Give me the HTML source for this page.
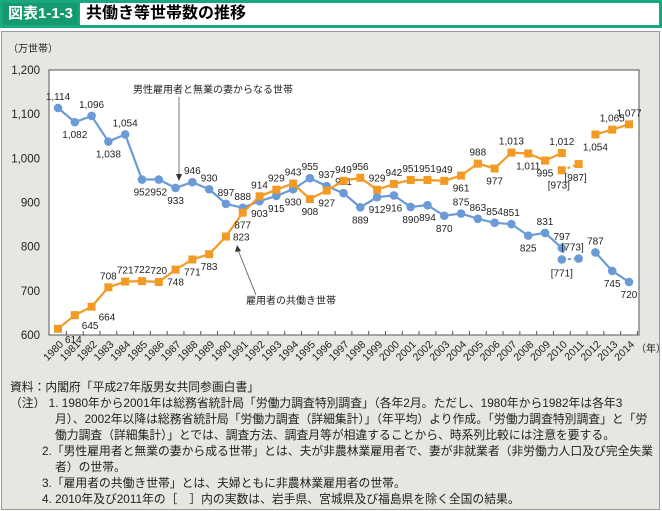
<!DOCTYPE html>
<html><head><meta charset="utf-8">
<style>
body{margin:0;width:662px;height:511px;overflow:hidden;background:#fff;font-family:"Liberation Sans","Noto Sans CJK JP",sans-serif;}
#hdr{position:absolute;left:0;top:0;width:662px;height:28px;background:#1aa97f;}
#lbl{position:absolute;left:3px;top:3px;width:75px;height:22px;background:#159a70;color:#fff;font-weight:bold;font-size:15px;line-height:22px;text-align:center;}
#ttl{position:absolute;left:80px;top:3px;width:579px;height:22px;background:#fff;font-weight:bold;font-size:16px;line-height:22px;padding-left:6px;box-sizing:border-box;}
#panel{position:absolute;left:1px;top:31px;width:657px;height:477px;background:#e7e6e0;border:1px solid #9a9a9a;}
svg{position:absolute;left:0;top:0;}
#notes{position:absolute;left:10px;top:379px;font-size:11.8px;line-height:16px;color:#222;width:660px;white-space:nowrap;}
</style></head><body>
<div id="hdr"></div>
<div id="lbl">図表1-1-3</div>
<div id="ttl">共働き等世帯数の推移</div>
<div id="panel"></div>
<svg id="chart" width="662" height="380"></svg>
<div id="notes">
<div>資料：内閣府「平成27年版男女共同参画白書」</div>
<div>（注）&nbsp;1. 1980年から2001年は総務省統計局「労働力調査特別調査」（各年2月。ただし、1980年から1982年は各年3</div>
<div style="padding-left:45px">月）、2002年以降は総務省統計局「労働力調査（詳細集計）」（年平均）より作成。「労働力調査特別調査」と「労</div>
<div style="padding-left:45px">働力調査（詳細集計）」とでは、調査方法、調査月等が相違することから、時系列比較には注意を要する。</div>
<div style="padding-left:32px">2.「男性雇用者と無業の妻から成る世帯」とは、夫が非農林業雇用者で、妻が非就業者（非労働力人口及び完全失業</div>
<div style="padding-left:45px">者）の世帯。</div>
<div style="padding-left:32px">3.「雇用者の共働き世帯」とは、夫婦ともに非農林業雇用者の世帯。</div>
<div style="padding-left:32px">4. 2010年及び2011年の［　］内の実数は、岩手県、宮城県及び福島県を除く全国の結果。</div>
</div>
<script>
const years=[1980,1981,1982,1983,1984,1985,1986,1987,1988,1989,1990,1991,1992,1993,1994,1995,1996,1997,1998,1999,2000,2001,2002,2003,2004,2005,2006,2007,2008,2009,2010,2011,2012,2013,2014];
const male=[1114,1082,1096,1038,1054,952,952,933,946,930,897,888,903,915,930,955,937,921,889,912,916,890,894,870,875,863,854,851,825,831,797,null,787,745,720];
const dual=[614,645,664,708,721,722,720,748,771,783,823,877,914,929,943,908,927,949,956,929,942,951,951,949,961,988,977,1013,1011,995,1012,null,1054,1065,1077];
const maleAdj=[771,773];
const dualAdj=[973,987];
const adjYears=[2010,2011];
const yTicks=[600,700,800,900,1000,1100,1200];
// label placement codes: a=above, b=below, r=right, d=down-right
const maleLab=['a','b','a','b','a','b','b','b','a','a','a','a','b','b','b','a','a','a','b','b','b','b','b','b','a','a','a','a','b','a','a','x','a','b','b'];
const dualLab=['d','d','d','a','a','a','a','b','b','b','r','b','a','a','a','b','b','a','a','a','a','a','a','a','b','a','b','a','b','b','a','x','b','a','a'];
const svg=document.getElementById('chart');
const NS='http://www.w3.org/2000/svg';
const X0=49,X1=639,Y0=70,Y1=335;
const xs=i=>58+i*(629-58)/34;
const xy=y=>Y1-(y-600)*(Y1-Y0)/600;
const xYear=yr=>xs(years.indexOf(yr));
function mk(t,a,txt){const e=document.createElementNS(NS,t);for(const k in a)e.setAttribute(k,a[k]);if(txt!=null)e.textContent=txt;svg.appendChild(e);return e;}
function fmt(v){return v>=1000?Math.floor(v/1000)+','+String(v%1000).padStart(3,'0'):String(v);}
let e=mk('rect',{x:X0,y:Y0,width:X1-X0,height:Y1-Y0,fill:'#fff',stroke:'#555','stroke-width':1});

yTicks.forEach(t=>{const l=mk('text',{x:40,y:xy(t)+4,'text-anchor':'end','font-size':11.5,fill:'#222'},fmt(t));
});
e=mk('text',{x:8,y:52,'font-size':10,fill:'#222'},'（万世帯）');
years.forEach((yr,i)=>{const tx=xs(i)+8.4;mk('line',{x1:tx,x2:tx,y1:Y1,y2:Y1-4,stroke:'#555'});
const lb=mk('text',{x:xs(i)+6,y:Y1+10,'text-anchor':'end','font-size':10.5,fill:'#222',transform:`rotate(-45 ${xs(i)+6} ${Y1+10})`},yr);
});
e=mk('text',{x:636,y:352,'font-size':10,fill:'#222'},'（年）');
function series(vals,labs,color,shape,name){
 let segs=[],cur=[];vals.forEach((v,i)=>{if(v==null){if(cur.length)segs.push(cur);cur=[];}else cur.push([xs(i),xy(v)]);});if(cur.length)segs.push(cur);
 segs.forEach(s=>{const p=mk('polyline',{points:s.map(q=>q.join(',')).join(' '),fill:'none',stroke:color,'stroke-width':2.2});
 });
 vals.forEach((v,i)=>{if(v==null)return;const x=xs(i),y=xy(v);let m;
  if(shape==='c')m=mk('circle',{cx:x,cy:y,r:4.3,fill:color});else m=mk('rect',{x:x-4,y:y-4,width:8,height:8,fill:color});
  
  const c=labs[i];let lx=x,ly=y-8,an='middle';
  if(c==='b')ly=y+16;else if(c==='r'){lx=x+7;ly=y+4;an='start';}else if(c==='d'){lx=x+7;ly=y+14;an='start';}
  const t=mk('text',{x:lx,y:ly,'text-anchor':an,'font-size':10,fill:'#222'},fmt(v));
  });
}
series(male,maleLab,'#6a9bd6','c','male-single-earner');
series(dual,dualLab,'#f29a24','s','dual-earner');
function adj(vals,color,shape,name,offs){
 const pts=vals.map((v,i)=>[xYear(adjYears[i]),xy(v)]);
 const l=mk('line',{x1:pts[0][0],y1:pts[0][1],x2:pts[1][0],y2:pts[1][1],stroke:color,'stroke-width':2,'stroke-dasharray':'3,3'});
 
 pts.forEach((p,i)=>{let m;if(shape==='c')m=mk('circle',{cx:p[0],cy:p[1],r:4.3,fill:color});else m=mk('rect',{x:p[0]-4,y:p[1]-4,width:8,height:8,fill:color});
 
 const t=mk('text',{x:p[0]+offs[i][0],y:p[1]+offs[i][1],'text-anchor':'middle','font-size':10,fill:'#222'},'['+vals[i]+']');
 });
}
adj(maleAdj,'#6a9bd6','c','male-adjusted',[[0,17],[-6,-8]]);
adj(dualAdj,'#f29a24','s','dual-adjusted',[[-3,18],[-3,17]]);
e=mk('text',{x:133,y:93,'font-size':10,fill:'#222'},'男性雇用者と無業の妻からなる世帯');
mk('line',{x1:179,y1:97,x2:179,y2:176,stroke:'#555','stroke-width':0.8});
mk('path',{d:'M176,174 L179,181 L182,174 Z',fill:'#333'});
e=mk('text',{x:246,y:304,'font-size':10,fill:'#222'},'雇用者の共働き世帯');
mk('line',{x1:256,y1:295,x2:238,y2:250,stroke:'#555','stroke-width':0.8});
mk('path',{d:'M235,252 L237,245 L241,251 Z',fill:'#333'});
</script>
</body></html>
